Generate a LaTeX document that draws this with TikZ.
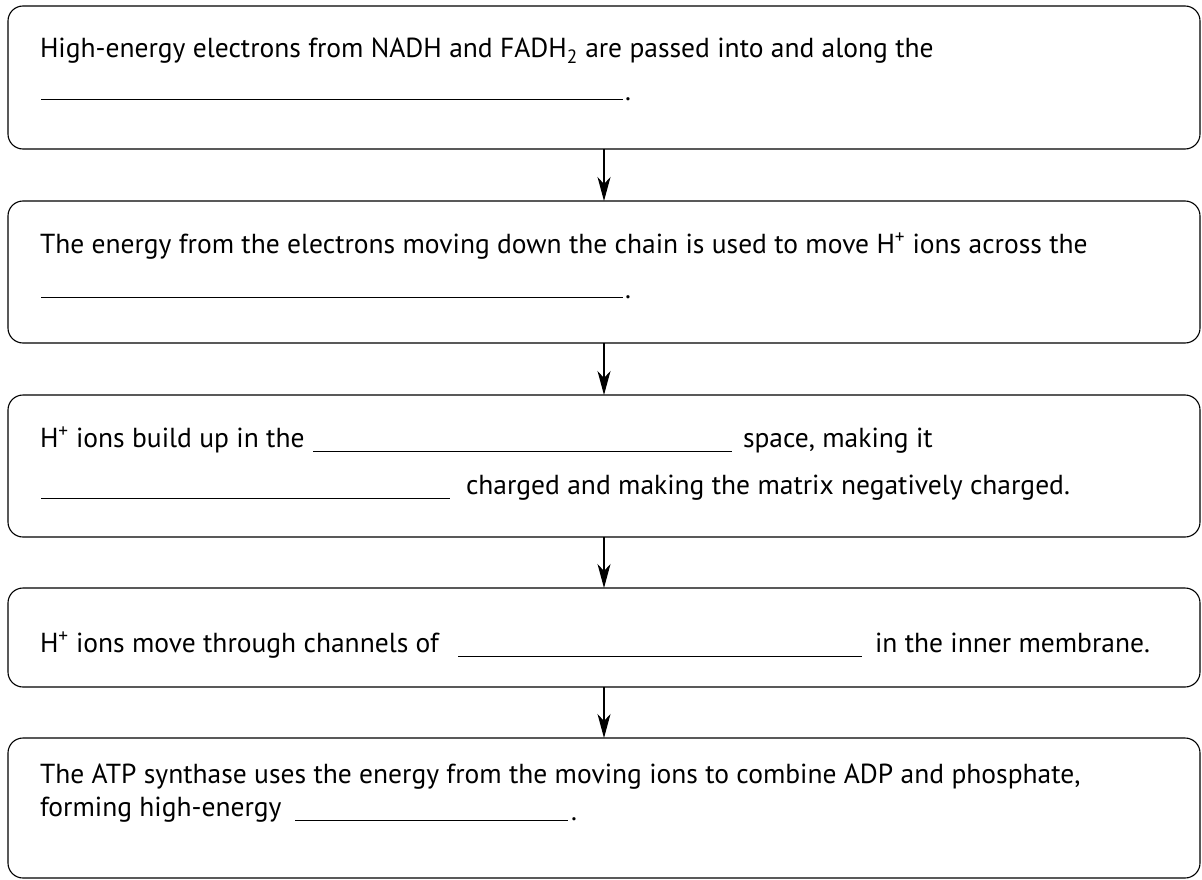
\documentclass[tikz,border=0pt]{standalone}
\usepackage{fontspec}
\setmainfont{PT Sans}
\usetikzlibrary{arrows.meta}
\newlength\reflen
\newlength\fslen
\newlength\fsllen
\begin{document}
\settowidth\reflen{\fontsize{10pt}{12pt}\selectfont The energy from the electrons moving down the chain is used to move H\textsuperscript{+} ions across the}%
\setlength\fslen{\dimexpr 10pt*1048/\numexpr\reflen/65536\relax\relax}%
\setlength\fsllen{1.2\fslen}%
\begin{tikzpicture}[x=1pt,y=-1pt]
\tikzset{
  box/.style={draw=black, line width=1.1pt, rounded corners=15pt, inner sep=0pt, outer sep=0pt, minimum width=1192pt},
  txt/.style={anchor=base west, inner sep=0pt, outer sep=0pt, font=\fontsize{\fslen}{\fsllen}\selectfont},
  blank/.style={line width=1pt},
  arr/.style={line width=1.2pt, -{Stealth[length=24pt,width=13pt,inset=7pt]}}
}
\useasboundingbox (0,0) rectangle (1202,880);
% boxes
\node[box, minimum height=143pt] (b1) at (604,77.5) {};
\node[box, minimum height=142pt] (b2) at (604,272) {};
\node[box, minimum height=142pt] (b3) at (604,466) {};
\node[box, minimum height=99pt]  (b4) at (604,637.5) {};
\node[box, minimum height=140pt] (b5) at (604,808) {};
% arrows
\draw[arr] (b1.south) -- (b2.north);
\draw[arr] (b2.south) -- (b3.north);
\draw[arr] (b3.south) -- (b4.north);
\draw[arr] (b4.south) -- (b5.north);
% box 1
\node[txt] (t1) at (40,58) {High-energy electrons from NADH and FADH\textsubscript{2} are passed into and along the};
\draw[blank] (41,100) -- (623,100);
\node[txt] (p1) at (625,101) {.};
% box 2
\node[txt] (t2) at (40,253) {The energy from the electrons moving down the chain is used to move H\textsuperscript{+} ions across the};
\draw[blank] (41,297) -- (623,297);
\node[txt] (p2) at (625,298) {.};
% box 3
\node[txt] (t3a) at (40,447) {H\textsuperscript{+} ions build up in the};
\draw[blank] (313,451) -- (732,451);
\node[txt] (t3b) at (743,447) {space, making it};
\draw[blank] (41,498) -- (450,498);
\node[txt] (t3c) at (466,494) {charged and making the matrix negatively charged.};
% box 4
\node[txt] (t4a) at (40,652) {H\textsuperscript{+} ions move through channels of};
\draw[blank] (458,656) -- (862,656);
\node[txt] (t4b) at (875,652) {in the inner membrane.};
% box 5
\node[txt] (t5a) at (40,783) {The ATP synthase uses the energy from the moving ions to combine ADP and phosphate,};
\node[txt] (t5b) at (40,816) {forming high-energy};
\draw[blank] (295,820) -- (568,820);
\node[txt] (p5) at (571,820) {.};
\end{tikzpicture}
\end{document}
